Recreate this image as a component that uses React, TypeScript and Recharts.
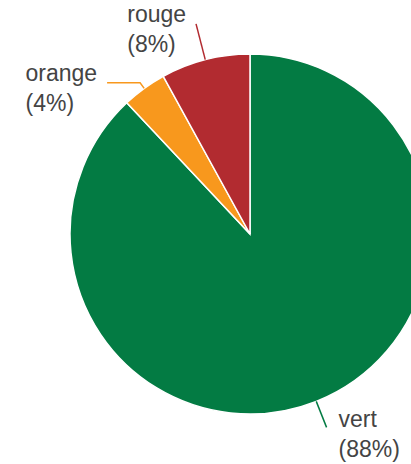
import React from "react";
import { PieChart, Pie, Cell } from "recharts";

const categories = ["vert", "orange", "rouge"];
const values = [88, 4, 8];
const colors = ["#037b43", "#f8981d", "#b22b30"];

// label leader geometry per slice: radial length beyond pie, horizontal run
const leaderRadial = [28, 7, 37];
const leaderHoriz = [0, 33, 0];

const data = categories.map((name, i) => ({ name, value: values[i] }));

const FONT_SIZE = 23;
const CHAR_W: Record<string, number> = {
  a: 0.556, e: 0.556, g: 0.556, n: 0.556, o: 0.556, r: 0.333, u: 0.556,
  t: 0.278, v: 0.5, "%": 0.889, "(": 0.333, ")": 0.333,
};
const textWidth = (s: string) =>
  s.split("").reduce((w, c) => w + (CHAR_W[c] ?? 0.556), 0) * FONT_SIZE;

const RAD = Math.PI / 180;

const renderLabel = (props: any) => {
  const { cx, cy, midAngle, outerRadius, percent, index, name } = props;
  const cos = Math.cos(-midAngle * RAD);
  const sin = Math.sin(-midAngle * RAD);
  const sx = cx + outerRadius * cos;
  const sy = cy + outerRadius * sin;
  const r2 = outerRadius + leaderRadial[index];
  const mx = cx + r2 * cos;
  const my = cy + r2 * sin;
  const right = cos >= 0;
  const ex = mx + (right ? 1 : -1) * leaderHoriz[index];
  const ey = my;
  const l1 = String(name);
  const l2 = `(${Math.round(percent * 100)}%)`;
  const blockW = Math.max(textWidth(l1), textWidth(l2));
  const tx = right ? ex + 12 : ex - 10 - blockW;
  const ty = right ? ey : ey - 2;
  const color = colors[index];
  return (
    <g key={`lbl-${index}`}>
      <polyline
        points={`${sx},${sy} ${mx},${my} ${ex},${ey}`}
        fill="none"
        stroke={color}
        strokeWidth={1.5}
      />
      <text
        x={tx}
        y={ty}
        fill="#444"
        fontSize={FONT_SIZE}
        fontFamily="'Liberation Sans', Arial, sans-serif"
        textAnchor="start"
      >
        <tspan x={tx} y={ty}>{l1}</tspan>
        <tspan x={tx} y={ty + 30}>{l2}</tspan>
      </text>
    </g>
  );
};

export default function App() {
  return (
    <div style={{ position: "absolute", left: 0, top: 0, width: 411, height: 464 }}>
      <PieChart width={411} height={464} margin={{ top: 0, right: 0, bottom: 0, left: 0 }}>
        <Pie
          data={data}
          dataKey="value"
          nameKey="name"
          cx={250}
          cy={234}
          outerRadius={180}
          startAngle={90}
          endAngle={-270}
          stroke="#ffffff"
          strokeWidth={1.5}
          label={renderLabel}
          labelLine={false}
          isAnimationActive={false}
        >
          {data.map((d, i) => (
            <Cell key={d.name} fill={colors[i]} />
          ))}
        </Pie>
      </PieChart>
    </div>
  );
}
